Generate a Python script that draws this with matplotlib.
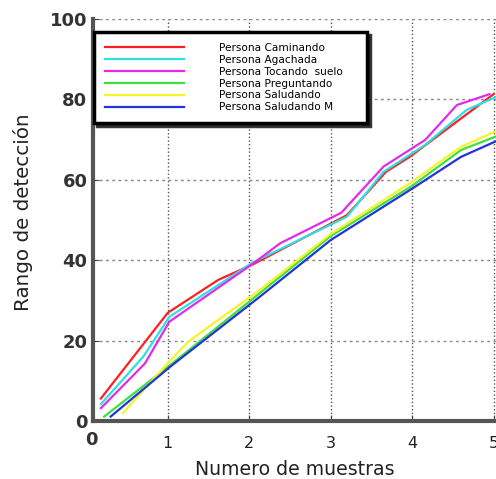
import matplotlib
matplotlib.use("Agg")
import matplotlib.pyplot as plt

# valores (numero de muestras vs rango de deteccion)
x_caminando = [0.18, 1.0, 1.62, 2.05, 3.2, 3.68, 3.97, 5.0]
y_caminando = [5.6, 26.9, 35.1, 39.0, 51.2, 62.0, 65.7, 81.3]

x_agachada = [0.18, 0.7, 1.02, 2.05, 3.2, 3.65, 4.16, 4.67, 5.02]
y_agachada = [4.2, 16.0, 25.9, 39.5, 50.8, 62.0, 68.7, 77.4, 80.5]

x_tocando = [0.18, 0.72, 1.02, 2.05, 2.38, 3.13, 3.65, 4.16, 4.55, 4.95]
y_tocando = [3.2, 14.3, 24.7, 39.2, 44.2, 51.8, 63.3, 69.9, 78.6, 81.3]

x_preguntando = [0.22, 1.03, 2.13, 3.0, 4.0, 4.6, 5.02]
y_preguntando = [1.1, 13.9, 31.8, 46.0, 58.5, 67.4, 70.7]

x_saludando = [0.45, 1.02, 1.25, 2.13, 3.0, 4.0, 4.6, 5.02]
y_saludando = [2.0, 14.8, 19.7, 32.6, 46.5, 59.5, 68.2, 72.0]

x_saludando_m = [0.3, 1.03, 2.13, 3.0, 4.0, 4.6, 5.02]
y_saludando_m = [1.1, 13.5, 30.9, 45.0, 57.8, 65.7, 69.5]

labels = ["Persona Caminando", "Persona Agachada", "Persona Tocando  suelo",
          "Persona Preguntando", "Persona Saludando", "Persona Saludando M"]
colors = ["#ff1f1f", "#2ee0e6", "#e22be8", "#3ee03e", "#f4f42a", "#2233dd"]

series = [(x_caminando, y_caminando), (x_agachada, y_agachada),
          (x_tocando, y_tocando), (x_preguntando, y_preguntando),
          (x_saludando, y_saludando), (x_saludando_m, y_saludando_m)]

fig = plt.figure(figsize=(4.96, 4.79), dpi=100)
ax = fig.add_axes([93/496, 58/479, 403/496, 402/479])

for (xs, ys), lab, col in zip(series, labels, colors):
    ax.plot(xs, ys, color=col, lw=1.6, label=lab)

ax.set_xlim(0.083, 5.03)
ax.set_ylim(0, 100)
ax.set_xticks([1, 2, 3, 4, 5])
ax.set_yticks([0, 20, 40, 60, 80, 100])
ax.xaxis.grid(True, linestyle=":", color="#555555", lw=1.0)
ax.yaxis.grid(True, linestyle=(0, (2, 2.5)), color="#888888", lw=1.0)

for s in ["top", "right"]:
    ax.spines[s].set_visible(False)
for s in ["left", "bottom"]:
    ax.spines[s].set_color("#555555")
    ax.spines[s].set_linewidth(3)

ax.tick_params(axis="both", direction="in", length=4, color="#444444")
ax.tick_params(axis="x", labelsize=11.5, labelcolor="#222222", pad=11)
ax.tick_params(axis="y", labelsize=13, labelcolor="#333333", pad=4)
for t in ax.get_yticklabels():
    t.set_fontweight("bold")

# el "0" del eje x aparece aparte, a la izquierda
ax.text(0.06, -4.7, "0", ha="center", va="center", fontsize=13,
        fontweight="bold", color="#333333", clip_on=False)

ax.set_xlabel("Numero de muestras", fontsize=13.6, color="#222222", labelpad=6)
ax.set_ylabel("Rango de detección", fontsize=14.3, color="#222222")
ax.yaxis.set_label_coords(-0.148, 0.52)

leg = ax.legend(loc="upper left", bbox_to_anchor=(0.003, 0.967, 0.677, 0.0),
                mode="expand", fontsize=7.6, handlelength=7.5,
                handletextpad=3.3, labelspacing=0.18, borderpad=1.0,
                borderaxespad=0, fancybox=False,
                shadow={"color": "#222222", "alpha": 0.9}, framealpha=1)
leg.get_frame().set_edgecolor("black")
leg.get_frame().set_linewidth(2.5)

fig.savefig("out.png", dpi=100)
